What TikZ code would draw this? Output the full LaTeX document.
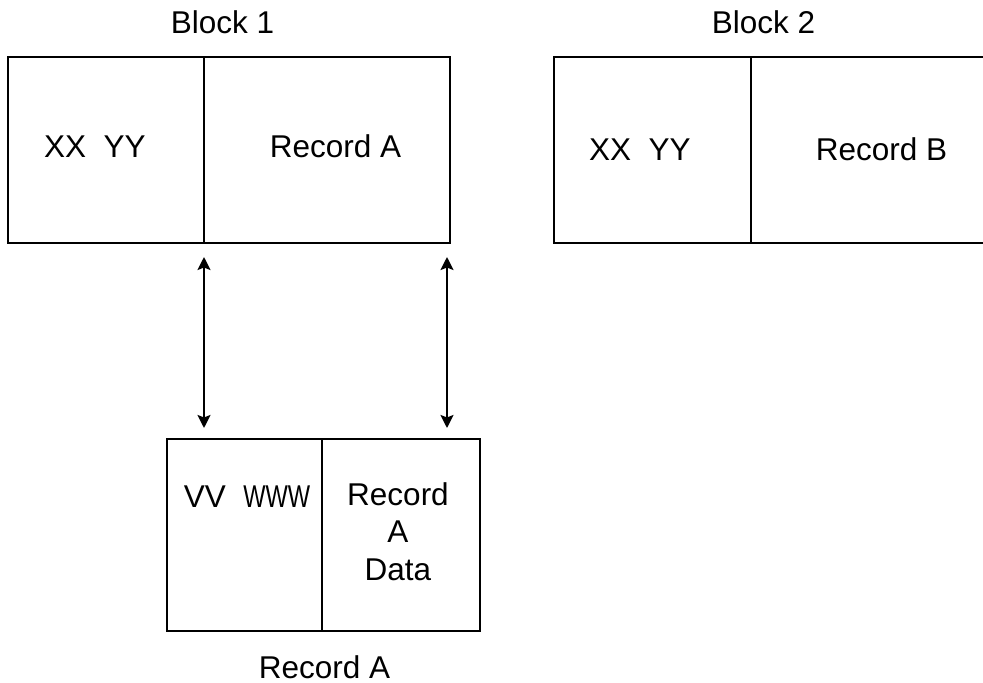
\documentclass[tikz,border=0pt]{standalone}
\usepackage{fontspec}
\usepackage{graphicx}
\setmainfont{Liberation Sans}
\usetikzlibrary{arrows.meta}
\begin{document}
\begin{tikzpicture}[x=1pt,y=-1pt,
  cell/.style={draw=black,line width=2.4pt,rectangle,inner sep=0pt,outer sep=0pt},
  lbl/.style={inner sep=0pt,outer sep=0pt,anchor=base,font=\fontsize{31.5}{37.5}\selectfont},
  link/.style={line width=2.4pt,{Stealth[length=13pt,width=13pt,inset=2.5pt]}-{Stealth[length=13pt,width=13pt,inset=2.5pt]}}]
\useasboundingbox (0,0) rectangle (983,683);
\clip (0,0) rectangle (983,683);
% Block 1
\node[cell,minimum width=196pt,minimum height=186pt] (b1l) at (106,150) {};
\node[cell,minimum width=246pt,minimum height=186pt] (b1r) at (327,150) {};
\node[lbl] (t1) at (222.5,33) {Block 1};
\node[lbl] (x1) at (95,157) {XX\ \ YY};
\node[lbl] (r1) at (335.5,157) {Record A};
% Block 2
\node[cell,minimum width=197pt,minimum height=186pt] (b2l) at (652.5,150) {};
\node[cell,minimum width=249pt,minimum height=186pt] (b2r) at (875.5,150) {};
\node[lbl] (t2) at (763.5,33) {Block 2};
\node[lbl] (x2) at (640,160) {XX\ \ YY};
\node[lbl] (r2) at (881.5,160) {Record B};
% Record A
\node[cell,minimum width=155pt,minimum height=192pt] (ral) at (244.5,535) {};
\node[cell,minimum width=158pt,minimum height=192pt] (rar) at (401,535) {};
\node[lbl] (v) at (247,507) {VV\ \ \scalebox{0.75}[1]{WWW}};
\node[lbl,anchor=north,align=center] (rd) at (398,482.5) {Record\\A\\Data};
\node[lbl] (ra) at (324.5,678) {Record A};
% links
\coordinate (a1t) at (204,257);
\coordinate (a1b) at (204,428);
\coordinate (a2t) at (447,257);
\coordinate (a2b) at (447,428);
\draw[link] (a1t) -- (a1b);
\draw[link] (a2t) -- (a2b);
\end{tikzpicture}
\end{document}
